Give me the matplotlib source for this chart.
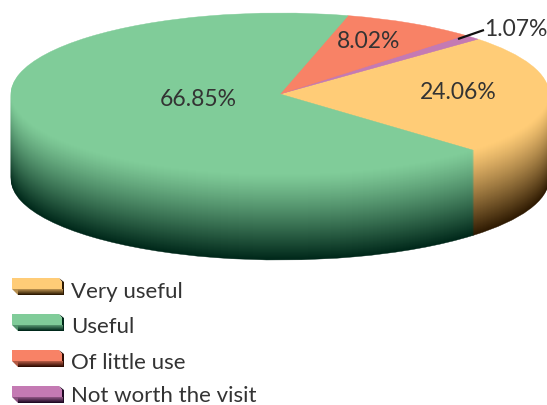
import numpy as np
import matplotlib
matplotlib.use("Agg")
import matplotlib.pyplot as plt
from matplotlib.patches import Wedge, Polygon
from matplotlib.transforms import Affine2D

categories = ["Very useful", "Useful", "Of little use", "Not worth the visit"]
values = [24.06, 66.85, 8.02, 1.07]
value_labels = ["24.06%", "66.85%", "8.02%", "1.07%"]
colors = ["#FFCC77", "#80CC99", "#F88266", "#C47AB3"]
darks = ["#2E1A02", "#00281A", "#300C02", "#200A24"]

W, H = 547, 406
CX, CY, RX, RY, DEPTH = 280, 95, 269, 81, 85
START = -44.0
TXT = "#333333"
FONT = "Lato"

fig = plt.figure(figsize=(W / 100, H / 100), dpi=100)
ax = fig.add_axes([0, 0, 1, 1])
ax.set_xlim(0, W)
ax.set_ylim(H, 0)
ax.axis("off")

def mix(a, b, t):
    a, b = np.array(matplotlib.colors.to_rgb(a)), np.array(matplotlib.colors.to_rgb(b))
    return tuple(a + (b - a) * t)

# slice angles; the order round the pie runs counter-clockwise from START
order = [0, 3, 2, 1]
angles = {}
cur = START
for i in order:
    span = values[i] / sum(values) * 360
    angles[i] = (cur, cur + span)
    cur += span

def wedge(i, yoff, color):
    # negative y scale: the axes run downwards, the angles counter-clockwise on screen
    tr = Affine2D().scale(RX, -RY).translate(CX, CY + yoff) + ax.transData
    t1, t2 = angles[i]
    ax.add_patch(Wedge((0, 0), 1, t1, t2, transform=tr, facecolor=color,
                       edgecolor=color, linewidth=0.3))

for d in np.arange(DEPTH, 0, -1):
    t = (d / DEPTH) ** 1.15
    for i in order:
        wedge(i, d, mix(colors[i], darks[i], t))
for i in order:
    wedge(i, 0, colors[i])

kw = dict(fontsize=16.5, family=FONT, color=TXT, va="center", ha="center")
ax.text(458, 92.5, value_labels[0], **kw)
ax.text(198, 99, value_labels[1], **kw)
ax.text(369, 41.5, value_labels[2], **kw)
ax.text(516, 30, value_labels[3], **kw)
ax.plot([458, 484], [40, 31], color="#111111", lw=1.6, solid_capstyle="butt")

# legend
rows = [279, 315, 351, 387]
baselines = [298, 333, 369, 402]
L, R, h, b = 12, 62, 11, 6
for i, (name, y, by) in enumerate(zip(categories, rows, baselines)):
    ax.add_patch(Polygon([[R - 3, y], [R + 2, y + 4], [R + 2, y + h + b], [R, y + h + b], [R, y + 4]],
                         closed=True, facecolor=darks[i], edgecolor="none"))
    for k in range(b, 0, -1):
        ax.add_patch(Polygon([[L + k, y + h], [R + 1, y + h], [R + 1, y + h + k], [L + k, y + h + k]],
                             closed=True, facecolor=mix(colors[i], darks[i], 0.25 + 0.75 * k / b),
                             edgecolor="none"))
    ax.add_patch(Polygon([[L, y + h], [L + b, y + h + b], [L + b, y + h]], closed=True,
                         facecolor=mix(colors[i], darks[i], 0.35), edgecolor="none"))
    ax.add_patch(Polygon([[L, y], [R - 3, y], [R, y + 4], [R, y + h], [L, y + h]],
                         closed=True, facecolor=colors[i], edgecolor="none"))
    ax.text(71, by, name, fontsize=16, family=FONT, color=TXT, va="baseline", ha="left")

fig.savefig("out.png", dpi=100)
